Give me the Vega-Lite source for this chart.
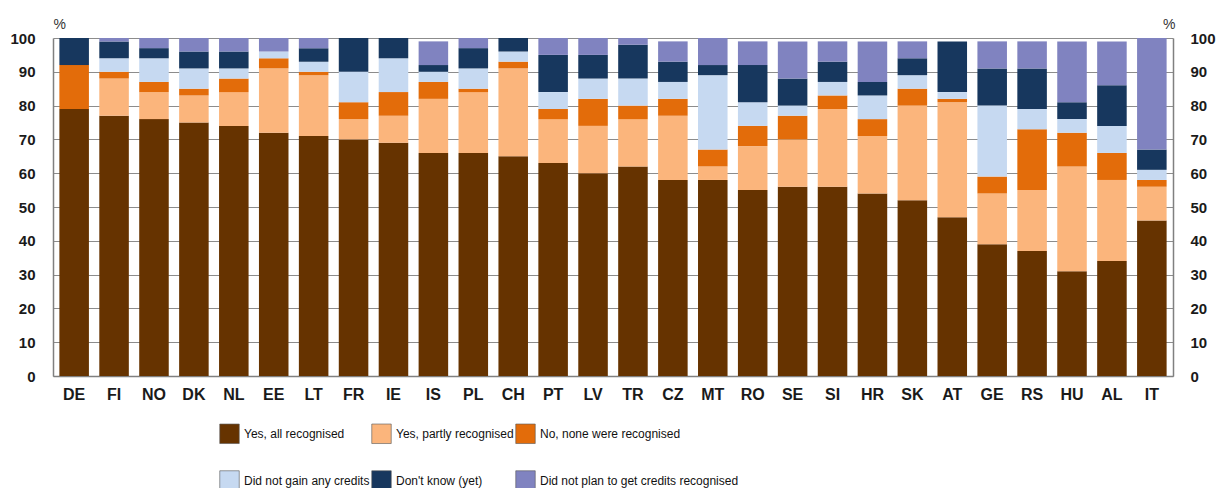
{
  "$schema": "https://vega.github.io/schema/vega-lite/v6.json",
  "width": 1120,
  "height": 338,
  "autosize": {"type": "none"},
  "padding": {"left": 53, "top": 38, "right": 45, "bottom": 112},
  "background": "white",
  "config": {
    "view": {"stroke": null},
    "font": "Liberation Sans, Arial, sans-serif"
  },
  "datasets": {
    "answers": [
      {"answer":"Yes, all recognised","rank":1},
      {"answer":"Yes, partly recognised","rank":2},
      {"answer":"No, none were recognised","rank":3},
      {"answer":"Did not gain any credits","rank":4},
      {"answer":"Don't know (yet)","rank":5},
      {"answer":"Did not plan to get credits recognised","rank":6}
    ]
  },
  "data": {
    "values": [
      {"country":"DE","answer":"Yes, all recognised","pct":79},{"country":"DE","answer":"Yes, partly recognised","pct":0},{"country":"DE","answer":"No, none were recognised","pct":13},{"country":"DE","answer":"Did not gain any credits","pct":0},{"country":"DE","answer":"Don't know (yet)","pct":8},{"country":"DE","answer":"Did not plan to get credits recognised","pct":0},
      {"country":"FI","answer":"Yes, all recognised","pct":77},{"country":"FI","answer":"Yes, partly recognised","pct":11},{"country":"FI","answer":"No, none were recognised","pct":2},{"country":"FI","answer":"Did not gain any credits","pct":4},{"country":"FI","answer":"Don't know (yet)","pct":5},{"country":"FI","answer":"Did not plan to get credits recognised","pct":1},
      {"country":"NO","answer":"Yes, all recognised","pct":76},{"country":"NO","answer":"Yes, partly recognised","pct":8},{"country":"NO","answer":"No, none were recognised","pct":3},{"country":"NO","answer":"Did not gain any credits","pct":7},{"country":"NO","answer":"Don't know (yet)","pct":3},{"country":"NO","answer":"Did not plan to get credits recognised","pct":3},
      {"country":"DK","answer":"Yes, all recognised","pct":75},{"country":"DK","answer":"Yes, partly recognised","pct":8},{"country":"DK","answer":"No, none were recognised","pct":2},{"country":"DK","answer":"Did not gain any credits","pct":6},{"country":"DK","answer":"Don't know (yet)","pct":5},{"country":"DK","answer":"Did not plan to get credits recognised","pct":4},
      {"country":"NL","answer":"Yes, all recognised","pct":74},{"country":"NL","answer":"Yes, partly recognised","pct":10},{"country":"NL","answer":"No, none were recognised","pct":4},{"country":"NL","answer":"Did not gain any credits","pct":3},{"country":"NL","answer":"Don't know (yet)","pct":5},{"country":"NL","answer":"Did not plan to get credits recognised","pct":4},
      {"country":"EE","answer":"Yes, all recognised","pct":72},{"country":"EE","answer":"Yes, partly recognised","pct":19},{"country":"EE","answer":"No, none were recognised","pct":3},{"country":"EE","answer":"Did not gain any credits","pct":2},{"country":"EE","answer":"Don't know (yet)","pct":0},{"country":"EE","answer":"Did not plan to get credits recognised","pct":4},
      {"country":"LT","answer":"Yes, all recognised","pct":71},{"country":"LT","answer":"Yes, partly recognised","pct":18},{"country":"LT","answer":"No, none were recognised","pct":1},{"country":"LT","answer":"Did not gain any credits","pct":3},{"country":"LT","answer":"Don't know (yet)","pct":4},{"country":"LT","answer":"Did not plan to get credits recognised","pct":3},
      {"country":"FR","answer":"Yes, all recognised","pct":70},{"country":"FR","answer":"Yes, partly recognised","pct":6},{"country":"FR","answer":"No, none were recognised","pct":5},{"country":"FR","answer":"Did not gain any credits","pct":9},{"country":"FR","answer":"Don't know (yet)","pct":10},{"country":"FR","answer":"Did not plan to get credits recognised","pct":0},
      {"country":"IE","answer":"Yes, all recognised","pct":69},{"country":"IE","answer":"Yes, partly recognised","pct":8},{"country":"IE","answer":"No, none were recognised","pct":7},{"country":"IE","answer":"Did not gain any credits","pct":10},{"country":"IE","answer":"Don't know (yet)","pct":6},{"country":"IE","answer":"Did not plan to get credits recognised","pct":0},
      {"country":"IS","answer":"Yes, all recognised","pct":66},{"country":"IS","answer":"Yes, partly recognised","pct":16},{"country":"IS","answer":"No, none were recognised","pct":5},{"country":"IS","answer":"Did not gain any credits","pct":3},{"country":"IS","answer":"Don't know (yet)","pct":2},{"country":"IS","answer":"Did not plan to get credits recognised","pct":7},
      {"country":"PL","answer":"Yes, all recognised","pct":66},{"country":"PL","answer":"Yes, partly recognised","pct":18},{"country":"PL","answer":"No, none were recognised","pct":1},{"country":"PL","answer":"Did not gain any credits","pct":6},{"country":"PL","answer":"Don't know (yet)","pct":6},{"country":"PL","answer":"Did not plan to get credits recognised","pct":3},
      {"country":"CH","answer":"Yes, all recognised","pct":65},{"country":"CH","answer":"Yes, partly recognised","pct":26},{"country":"CH","answer":"No, none were recognised","pct":2},{"country":"CH","answer":"Did not gain any credits","pct":3},{"country":"CH","answer":"Don't know (yet)","pct":4},{"country":"CH","answer":"Did not plan to get credits recognised","pct":0},
      {"country":"PT","answer":"Yes, all recognised","pct":63},{"country":"PT","answer":"Yes, partly recognised","pct":13},{"country":"PT","answer":"No, none were recognised","pct":3},{"country":"PT","answer":"Did not gain any credits","pct":5},{"country":"PT","answer":"Don't know (yet)","pct":11},{"country":"PT","answer":"Did not plan to get credits recognised","pct":5},
      {"country":"LV","answer":"Yes, all recognised","pct":60},{"country":"LV","answer":"Yes, partly recognised","pct":14},{"country":"LV","answer":"No, none were recognised","pct":8},{"country":"LV","answer":"Did not gain any credits","pct":6},{"country":"LV","answer":"Don't know (yet)","pct":7},{"country":"LV","answer":"Did not plan to get credits recognised","pct":5},
      {"country":"TR","answer":"Yes, all recognised","pct":62},{"country":"TR","answer":"Yes, partly recognised","pct":14},{"country":"TR","answer":"No, none were recognised","pct":4},{"country":"TR","answer":"Did not gain any credits","pct":8},{"country":"TR","answer":"Don't know (yet)","pct":10},{"country":"TR","answer":"Did not plan to get credits recognised","pct":2},
      {"country":"CZ","answer":"Yes, all recognised","pct":58},{"country":"CZ","answer":"Yes, partly recognised","pct":19},{"country":"CZ","answer":"No, none were recognised","pct":5},{"country":"CZ","answer":"Did not gain any credits","pct":5},{"country":"CZ","answer":"Don't know (yet)","pct":6},{"country":"CZ","answer":"Did not plan to get credits recognised","pct":6},
      {"country":"MT","answer":"Yes, all recognised","pct":58},{"country":"MT","answer":"Yes, partly recognised","pct":4},{"country":"MT","answer":"No, none were recognised","pct":5},{"country":"MT","answer":"Did not gain any credits","pct":22},{"country":"MT","answer":"Don't know (yet)","pct":3},{"country":"MT","answer":"Did not plan to get credits recognised","pct":8},
      {"country":"RO","answer":"Yes, all recognised","pct":55},{"country":"RO","answer":"Yes, partly recognised","pct":13},{"country":"RO","answer":"No, none were recognised","pct":6},{"country":"RO","answer":"Did not gain any credits","pct":7},{"country":"RO","answer":"Don't know (yet)","pct":11},{"country":"RO","answer":"Did not plan to get credits recognised","pct":7},
      {"country":"SE","answer":"Yes, all recognised","pct":56},{"country":"SE","answer":"Yes, partly recognised","pct":14},{"country":"SE","answer":"No, none were recognised","pct":7},{"country":"SE","answer":"Did not gain any credits","pct":3},{"country":"SE","answer":"Don't know (yet)","pct":8},{"country":"SE","answer":"Did not plan to get credits recognised","pct":11},
      {"country":"SI","answer":"Yes, all recognised","pct":56},{"country":"SI","answer":"Yes, partly recognised","pct":23},{"country":"SI","answer":"No, none were recognised","pct":4},{"country":"SI","answer":"Did not gain any credits","pct":4},{"country":"SI","answer":"Don't know (yet)","pct":6},{"country":"SI","answer":"Did not plan to get credits recognised","pct":6},
      {"country":"HR","answer":"Yes, all recognised","pct":54},{"country":"HR","answer":"Yes, partly recognised","pct":17},{"country":"HR","answer":"No, none were recognised","pct":5},{"country":"HR","answer":"Did not gain any credits","pct":7},{"country":"HR","answer":"Don't know (yet)","pct":4},{"country":"HR","answer":"Did not plan to get credits recognised","pct":12},
      {"country":"SK","answer":"Yes, all recognised","pct":52},{"country":"SK","answer":"Yes, partly recognised","pct":28},{"country":"SK","answer":"No, none were recognised","pct":5},{"country":"SK","answer":"Did not gain any credits","pct":4},{"country":"SK","answer":"Don't know (yet)","pct":5},{"country":"SK","answer":"Did not plan to get credits recognised","pct":5},
      {"country":"AT","answer":"Yes, all recognised","pct":47},{"country":"AT","answer":"Yes, partly recognised","pct":34},{"country":"AT","answer":"No, none were recognised","pct":1},{"country":"AT","answer":"Did not gain any credits","pct":2},{"country":"AT","answer":"Don't know (yet)","pct":15},{"country":"AT","answer":"Did not plan to get credits recognised","pct":0},
      {"country":"GE","answer":"Yes, all recognised","pct":39},{"country":"GE","answer":"Yes, partly recognised","pct":15},{"country":"GE","answer":"No, none were recognised","pct":5},{"country":"GE","answer":"Did not gain any credits","pct":21},{"country":"GE","answer":"Don't know (yet)","pct":11},{"country":"GE","answer":"Did not plan to get credits recognised","pct":8},
      {"country":"RS","answer":"Yes, all recognised","pct":37},{"country":"RS","answer":"Yes, partly recognised","pct":18},{"country":"RS","answer":"No, none were recognised","pct":18},{"country":"RS","answer":"Did not gain any credits","pct":6},{"country":"RS","answer":"Don't know (yet)","pct":12},{"country":"RS","answer":"Did not plan to get credits recognised","pct":8},
      {"country":"HU","answer":"Yes, all recognised","pct":31},{"country":"HU","answer":"Yes, partly recognised","pct":31},{"country":"HU","answer":"No, none were recognised","pct":10},{"country":"HU","answer":"Did not gain any credits","pct":4},{"country":"HU","answer":"Don't know (yet)","pct":5},{"country":"HU","answer":"Did not plan to get credits recognised","pct":18},
      {"country":"AL","answer":"Yes, all recognised","pct":34},{"country":"AL","answer":"Yes, partly recognised","pct":24},{"country":"AL","answer":"No, none were recognised","pct":8},{"country":"AL","answer":"Did not gain any credits","pct":8},{"country":"AL","answer":"Don't know (yet)","pct":12},{"country":"AL","answer":"Did not plan to get credits recognised","pct":13},
      {"country":"IT","answer":"Yes, all recognised","pct":46},{"country":"IT","answer":"Yes, partly recognised","pct":10},{"country":"IT","answer":"No, none were recognised","pct":2},{"country":"IT","answer":"Did not gain any credits","pct":3},{"country":"IT","answer":"Don't know (yet)","pct":6},{"country":"IT","answer":"Did not plan to get credits recognised","pct":33}
    ]
  },
  "transform": [
    {"lookup": "answer", "from": {"data": {"name": "answers"}, "key": "answer", "fields": ["rank"]}}
  ],
  "layer": [
    {
      "mark": {"type": "bar"},
      "encoding": {
        "x": {
          "field": "country",
          "type": "nominal",
          "sort": ["DE","FI","NO","DK","NL","EE","LT","FR","IE","IS","PL","CH","PT","LV","TR","CZ","MT","RO","SE","SI","HR","SK","AT","GE","RS","HU","AL","IT"],
          "scale": {"paddingInner": 0.26, "paddingOuter": 0.16},
          "axis": {
            "title": null,
            "labelAngle": 0,
            "ticks": false,
            "labelPadding": 10,
            "labelFontSize": 16,
            "labelFontWeight": "bold",
            "labelColor": "#1a1a1a",
            "domainColor": "#808080",
            "domainWidth": 1.5
          }
        },
        "y": {
          "field": "pct",
          "type": "quantitative",
          "stack": "zero",
          "scale": {"domain": [0, 100], "nice": false},
          "axis": {
            "title": "%",
            "titleAngle": 0,
            "titleX": 0,
            "titleY": -10,
            "titleAlign": "left",
            "titleBaseline": "alphabetic",
            "titleFontSize": 14,
            "titleFontWeight": "normal",
            "titleColor": "#333333",
            "values": [0,10,20,30,40,50,60,70,80,90,100],
            "ticks": false,
            "labelPadding": 18,
            "labelFontSize": 15,
            "labelFontWeight": "bold",
            "labelColor": "#1a1a1a",
            "domainColor": "#808080",
            "domainWidth": 1.5,
            "grid": true,
            "gridColor": "#8c8c8c",
            "gridWidth": 1
          }
        },
        "color": {
          "field": "answer",
          "type": "nominal",
          "sort": ["Yes, all recognised","Yes, partly recognised","No, none were recognised","Did not gain any credits","Don't know (yet)","Did not plan to get credits recognised"],
          "scale": {
            "domain": ["Yes, all recognised","Yes, partly recognised","No, none were recognised","Did not gain any credits","Don't know (yet)","Did not plan to get credits recognised"],
            "range": ["#663300","#FBB57C","#E36C0A","#C6D9F1","#17375E","#8083C0"]
          },
          "legend": {
            "title": null,
            "orient": "none",
            "legendX": 166,
            "legendY": 385,
            "direction": "horizontal",
            "columns": 3,
            "padding": 0,
            "columnPadding": 0,
            "rowPadding": 24,
            "symbolType": "square",
            "symbolSize": 380,
            "symbolStrokeColor": "#555555",
            "symbolStrokeWidth": 0.6,
            "symbolOpacity": 1,
            "labelFontSize": 12,
            "labelColor": "#111111",
            "labelOffset": 4,
            "labelLimit": 400
          }
        },
        "order": {"field": "rank", "type": "quantitative", "sort": "ascending"}
      }
    },
    {
      "mark": {"type": "rule", "opacity": 0},
      "encoding": {
        "y": {
          "datum": 0,
          "type": "quantitative",
          "scale": {"domain": [0, 100], "nice": false},
          "axis": {
            "orient": "right",
            "title": "%",
            "titleAngle": 0,
            "titleX": 2,
            "titleY": -10,
            "titleAlign": "right",
            "titleBaseline": "alphabetic",
            "titleFontSize": 14,
            "titleFontWeight": "normal",
            "titleColor": "#333333",
            "values": [0,10,20,30,40,50,60,70,80,90,100],
            "ticks": false,
            "grid": false,
            "labelPadding": 17,
            "labelFontSize": 15,
            "labelFontWeight": "bold",
            "labelColor": "#1a1a1a",
            "domainColor": "#808080",
            "domainWidth": 1.5
          }
        }
      }
    }
  ],
  "resolve": {"axis": {"y": "independent"}}
}
